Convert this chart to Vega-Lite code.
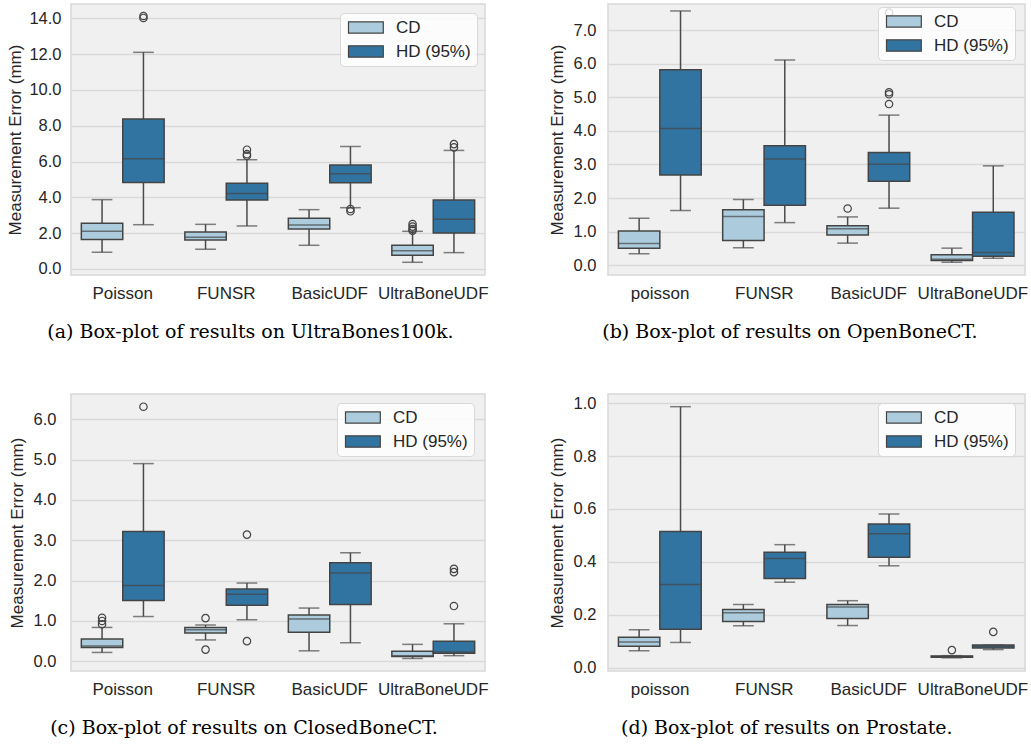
{
  "$schema": "https://vega.github.io/schema/vega-lite/v6.json",
  "background": "white",
  "padding": {"left": 6, "top": 3, "right": 5, "bottom": 5},
  "config": {
    "font": "Liberation Sans",
    "view": {"fill": "#f0f0f0", "stroke": "#d7d7d7", "strokeWidth": 1.5},
    "axis": {"labelFont": "Liberation Sans", "labelFontSize": 17, "labelColor": "#262626", "titleFont": "Liberation Sans", "titleFontSize": 17, "titleFontWeight": "normal", "titleColor": "#262626", "ticks": false, "domain": false},
    "axisY": {"gridColor": "#d9d9d9", "gridWidth": 1.5, "labelPadding": 12, "titlePadding": 7, "format": ".1f", "labelFontSize": 16.5, "labelOverlap": false},
    "axisX": {"grid": false, "labelAngle": 0, "labelPadding": 10, "title": null},
    "legend": {"symbolType": "M-1,-0.95H4.8V0.95H-1Z", "symbolSize": 144, "symbolStrokeColor": "#444444", "symbolStrokeWidth": 1.2, "symbolFillOpacity": 1, "labelFont": "Liberation Sans", "labelFontSize": 17, "labelColor": "#262626", "labelOffset": 33, "rowPadding": 6, "padding": 6, "fillColor": "rgba(255,255,255,0.8)", "strokeColor": "#d8d8d8", "cornerRadius": 4, "strokeWidth": 1, "title": null, "orient": "none"},
    "title": {"orient": "bottom", "anchor": "middle", "frame": "bounds", "font": "DejaVu Serif", "fontSize": 19, "fontWeight": "normal", "color": "#000000", "offset": 22}
  },
  "datasets": {
    "a_box": [
      {"method": "Poisson", "type": "CD", "lo": 0.93, "q1": 1.65, "med": 2.10, "q3": 2.55, "hi": 3.87},
      {"method": "Poisson", "type": "HD (95%)", "lo": 2.47, "q1": 4.83, "med": 6.15, "q3": 8.37, "hi": 12.10},
      {"method": "FUNSR", "type": "CD", "lo": 1.10, "q1": 1.62, "med": 1.77, "q3": 2.06, "hi": 2.49},
      {"method": "FUNSR", "type": "HD (95%)", "lo": 2.40, "q1": 3.85, "med": 4.22, "q3": 4.78, "hi": 6.10},
      {"method": "BasicUDF", "type": "CD", "lo": 1.32, "q1": 2.23, "med": 2.45, "q3": 2.83, "hi": 3.31},
      {"method": "BasicUDF", "type": "HD (95%)", "lo": 3.42, "q1": 4.81, "med": 5.32, "q3": 5.80, "hi": 6.84},
      {"method": "UltraBoneUDF", "type": "CD", "lo": 0.37, "q1": 0.76, "med": 1.02, "q3": 1.32, "hi": 2.10},
      {"method": "UltraBoneUDF", "type": "HD (95%)", "lo": 0.91, "q1": 2.01, "med": 2.77, "q3": 3.85, "hi": 6.62}
    ],
    "a_out": [
      {"method": "Poisson", "type": "HD (95%)", "v": 14.13},
      {"method": "Poisson", "type": "HD (95%)", "v": 14.02},
      {"method": "FUNSR", "type": "HD (95%)", "v": 6.66},
      {"method": "FUNSR", "type": "HD (95%)", "v": 6.41},
      {"method": "FUNSR", "type": "HD (95%)", "v": 6.32},
      {"method": "BasicUDF", "type": "HD (95%)", "v": 3.35},
      {"method": "BasicUDF", "type": "HD (95%)", "v": 3.22},
      {"method": "UltraBoneUDF", "type": "CD", "v": 2.51},
      {"method": "UltraBoneUDF", "type": "CD", "v": 2.36},
      {"method": "UltraBoneUDF", "type": "CD", "v": 2.23},
      {"method": "UltraBoneUDF", "type": "CD", "v": 2.14},
      {"method": "UltraBoneUDF", "type": "HD (95%)", "v": 6.97},
      {"method": "UltraBoneUDF", "type": "HD (95%)", "v": 6.79}
    ],
    "b_box": [
      {"method": "poisson", "type": "CD", "lo": 0.34, "q1": 0.51, "med": 0.65, "q3": 1.02, "hi": 1.40},
      {"method": "poisson", "type": "HD (95%)", "lo": 1.63, "q1": 2.69, "med": 4.07, "q3": 5.82, "hi": 7.57},
      {"method": "FUNSR", "type": "CD", "lo": 0.52, "q1": 0.74, "med": 1.45, "q3": 1.65, "hi": 1.96},
      {"method": "FUNSR", "type": "HD (95%)", "lo": 1.27, "q1": 1.79, "med": 3.16, "q3": 3.56, "hi": 6.11},
      {"method": "BasicUDF", "type": "CD", "lo": 0.66, "q1": 0.90, "med": 1.09, "q3": 1.18, "hi": 1.44},
      {"method": "BasicUDF", "type": "HD (95%)", "lo": 1.70, "q1": 2.50, "med": 3.01, "q3": 3.36, "hi": 4.47},
      {"method": "UltraBoneUDF", "type": "CD", "lo": 0.09, "q1": 0.14, "med": 0.18, "q3": 0.31, "hi": 0.51},
      {"method": "UltraBoneUDF", "type": "HD (95%)", "lo": 0.21, "q1": 0.27, "med": 0.38, "q3": 1.58, "hi": 2.96}
    ],
    "b_out": [
      {"method": "BasicUDF", "type": "CD", "v": 1.69},
      {"method": "BasicUDF", "type": "HD (95%)", "v": 5.15},
      {"method": "BasicUDF", "type": "HD (95%)", "v": 5.09},
      {"method": "BasicUDF", "type": "HD (95%)", "v": 4.80},
      {"method": "BasicUDF", "type": "HD (95%)", "v": 7.52}
    ],
    "c_box": [
      {"method": "Poisson", "type": "CD", "lo": 0.22, "q1": 0.34, "med": 0.38, "q3": 0.55, "hi": 0.84},
      {"method": "Poisson", "type": "HD (95%)", "lo": 1.11, "q1": 1.51, "med": 1.88, "q3": 3.22, "hi": 4.90},
      {"method": "FUNSR", "type": "CD", "lo": 0.53, "q1": 0.70, "med": 0.78, "q3": 0.84, "hi": 0.90},
      {"method": "FUNSR", "type": "HD (95%)", "lo": 1.03, "q1": 1.39, "med": 1.66, "q3": 1.79, "hi": 1.94},
      {"method": "BasicUDF", "type": "CD", "lo": 0.26, "q1": 0.72, "med": 1.05, "q3": 1.15, "hi": 1.32},
      {"method": "BasicUDF", "type": "HD (95%)", "lo": 0.46, "q1": 1.41, "med": 2.19, "q3": 2.44, "hi": 2.69},
      {"method": "UltraBoneUDF", "type": "CD", "lo": 0.07, "q1": 0.12, "med": 0.14, "q3": 0.25, "hi": 0.42},
      {"method": "UltraBoneUDF", "type": "HD (95%)", "lo": 0.14, "q1": 0.20, "med": 0.23, "q3": 0.50, "hi": 0.93}
    ],
    "c_out": [
      {"method": "Poisson", "type": "CD", "v": 1.08},
      {"method": "Poisson", "type": "CD", "v": 1.00},
      {"method": "Poisson", "type": "CD", "v": 0.92},
      {"method": "Poisson", "type": "HD (95%)", "v": 6.31},
      {"method": "FUNSR", "type": "CD", "v": 1.07},
      {"method": "FUNSR", "type": "CD", "v": 0.29},
      {"method": "FUNSR", "type": "HD (95%)", "v": 3.14},
      {"method": "FUNSR", "type": "HD (95%)", "v": 0.50},
      {"method": "UltraBoneUDF", "type": "HD (95%)", "v": 2.29},
      {"method": "UltraBoneUDF", "type": "HD (95%)", "v": 2.21},
      {"method": "UltraBoneUDF", "type": "HD (95%)", "v": 1.37}
    ],
    "d_box": [
      {"method": "poisson", "type": "CD", "lo": 0.064, "q1": 0.081, "med": 0.097, "q3": 0.115, "hi": 0.143},
      {"method": "poisson", "type": "HD (95%)", "lo": 0.095, "q1": 0.145, "med": 0.314, "q3": 0.515, "hi": 0.987},
      {"method": "FUNSR", "type": "CD", "lo": 0.158, "q1": 0.174, "med": 0.207, "q3": 0.220, "hi": 0.239},
      {"method": "FUNSR", "type": "HD (95%)", "lo": 0.323, "q1": 0.337, "med": 0.413, "q3": 0.436, "hi": 0.465},
      {"method": "BasicUDF", "type": "CD", "lo": 0.159, "q1": 0.186, "med": 0.229, "q3": 0.239, "hi": 0.253},
      {"method": "BasicUDF", "type": "HD (95%)", "lo": 0.385, "q1": 0.417, "med": 0.506, "q3": 0.543, "hi": 0.581},
      {"method": "UltraBoneUDF", "type": "CD", "lo": 0.037, "q1": 0.039, "med": 0.042, "q3": 0.044, "hi": 0.045},
      {"method": "UltraBoneUDF", "type": "HD (95%)", "lo": 0.068, "q1": 0.074, "med": 0.081, "q3": 0.085, "hi": 0.085}
    ],
    "d_out": [
      {"method": "UltraBoneUDF", "type": "CD", "v": 0.066},
      {"method": "UltraBoneUDF", "type": "HD (95%)", "v": 0.135}
    ]
  },
  "concat": [
    {
      "hconcat": [
        {
          "width": 414, "height": 271,
          "title": {"text": "(a) Box-plot of results on UltraBones100k.", "dx": 3},
          "data": {"name": "a_box"},
          "encoding": {
            "x": {"field": "method", "type": "nominal", "sort": ["Poisson", "FUNSR", "BasicUDF", "UltraBoneUDF"], "scale": {"paddingInner": 0.2, "paddingOuter": 0.1}},
            "xOffset": {"field": "type", "type": "nominal", "sort": ["CD", "HD (95%)"]}
          },
          "layer": [
            {"mark": {"type": "rule", "color": "#4a4a4a", "strokeWidth": 1.5},
             "encoding": {"y": {"field": "lo", "type": "quantitative", "scale": {"domain": [-0.34, 14.8], "nice": false, "zero": false}, "axis": {"values": [0, 2, 4, 6, 8, 10, 12, 14], "labelPadding": 10, "titlePadding": 4, "title": "Measurement Error (mm)"}}, "y2": {"field": "hi"}}},
            {"mark": {"type": "bar", "stroke": "#444444", "strokeWidth": 1.5},
             "encoding": {"y": {"field": "q1", "type": "quantitative", "axis": {"values": [0, 2, 4, 6, 8, 10, 12, 14], "labelPadding": 10, "titlePadding": 4, "title": "Measurement Error (mm)"}}, "y2": {"field": "q3"},
               "fill": {"field": "type", "type": "nominal", "scale": {"domain": ["CD", "HD (95%)"], "range": ["#acccdd", "#3274a1"]}, "legend": {"legendX": 269, "legendY": 9}}}},
            {"mark": {"type": "tick", "size": 41.4, "thickness": 1.5, "color": "#444444"}, "encoding": {"y": {"field": "med", "type": "quantitative", "axis": {"values": [0, 2, 4, 6, 8, 10, 12, 14], "labelPadding": 10, "titlePadding": 4, "title": "Measurement Error (mm)"}}}},
            {"mark": {"type": "tick", "size": 20.7, "thickness": 1.5, "color": "#4a4a4a"}, "encoding": {"y": {"field": "lo", "type": "quantitative", "axis": {"values": [0, 2, 4, 6, 8, 10, 12, 14], "labelPadding": 10, "titlePadding": 4, "title": "Measurement Error (mm)"}}}},
            {"mark": {"type": "tick", "size": 20.7, "thickness": 1.5, "color": "#4a4a4a"}, "encoding": {"y": {"field": "hi", "type": "quantitative", "axis": {"values": [0, 2, 4, 6, 8, 10, 12, 14], "labelPadding": 10, "titlePadding": 4, "title": "Measurement Error (mm)"}}}},
            {"data": {"name": "a_out"}, "mark": {"type": "point", "shape": "circle", "filled": false, "size": 55, "strokeWidth": 1.2, "color": "#444444", "opacity": 1}, "encoding": {"y": {"field": "v", "type": "quantitative", "axis": {"values": [0, 2, 4, 6, 8, 10, 12, 14], "labelPadding": 10, "titlePadding": 4, "title": "Measurement Error (mm)"}}}}
          ]
        },
        {
          "width": 417, "height": 271,
          "title": {"text": "(b) Box-plot of results on OpenBoneCT.", "dx": 2},
          "data": {"name": "b_box"},
          "encoding": {
            "x": {"field": "method", "type": "nominal", "sort": ["poisson", "FUNSR", "BasicUDF", "UltraBoneUDF"], "scale": {"paddingInner": 0.2, "paddingOuter": 0.1}},
            "xOffset": {"field": "type", "type": "nominal", "sort": ["CD", "HD (95%)"]}
          },
          "layer": [
            {"mark": {"type": "rule", "color": "#4a4a4a", "strokeWidth": 1.5},
             "encoding": {"y": {"field": "lo", "type": "quantitative", "scale": {"domain": [-0.289, 7.777], "nice": false, "zero": false}, "axis": {"values": [0, 1, 2, 3, 4, 5, 6, 7], "title": "Measurement Error (mm)"}}, "y2": {"field": "hi"}}},
            {"mark": {"type": "bar", "stroke": "#444444", "strokeWidth": 1.5},
             "encoding": {"y": {"field": "q1", "type": "quantitative", "axis": {"values": [0, 1, 2, 3, 4, 5, 6, 7], "title": "Measurement Error (mm)"}}, "y2": {"field": "q3"},
               "fill": {"field": "type", "type": "nominal", "scale": {"domain": ["CD", "HD (95%)"], "range": ["#acccdd", "#3274a1"]}, "legend": {"legendX": 270, "legendY": 3}}}},
            {"mark": {"type": "tick", "size": 41.7, "thickness": 1.5, "color": "#444444"}, "encoding": {"y": {"field": "med", "type": "quantitative", "axis": {"values": [0, 1, 2, 3, 4, 5, 6, 7], "title": "Measurement Error (mm)"}}}},
            {"mark": {"type": "tick", "size": 20.8, "thickness": 1.5, "color": "#4a4a4a"}, "encoding": {"y": {"field": "lo", "type": "quantitative", "axis": {"values": [0, 1, 2, 3, 4, 5, 6, 7], "title": "Measurement Error (mm)"}}}},
            {"mark": {"type": "tick", "size": 20.8, "thickness": 1.5, "color": "#4a4a4a"}, "encoding": {"y": {"field": "hi", "type": "quantitative", "axis": {"values": [0, 1, 2, 3, 4, 5, 6, 7], "title": "Measurement Error (mm)"}}}},
            {"data": {"name": "b_out"}, "mark": {"type": "point", "shape": "circle", "filled": false, "size": 55, "strokeWidth": 1.2, "color": "#444444", "opacity": 1}, "encoding": {"y": {"field": "v", "type": "quantitative", "axis": {"values": [0, 1, 2, 3, 4, 5, 6, 7], "title": "Measurement Error (mm)"}}}}
          ]
        }
      ],
      "spacing": 58,
      "resolve": {"scale": {"fill": "independent"}, "legend": {"fill": "independent"}}
    },
    {
      "hconcat": [
        {
          "width": 414, "height": 277,
          "title": {"text": "(c) Box-plot of results on ClosedBoneCT.", "dx": -4},
          "data": {"name": "c_box"},
          "encoding": {
            "x": {"field": "method", "type": "nominal", "sort": ["Poisson", "FUNSR", "BasicUDF", "UltraBoneUDF"], "scale": {"paddingInner": 0.2, "paddingOuter": 0.1}},
            "xOffset": {"field": "type", "type": "nominal", "sort": ["CD", "HD (95%)"]}
          },
          "layer": [
            {"mark": {"type": "rule", "color": "#4a4a4a", "strokeWidth": 1.5},
             "encoding": {"y": {"field": "lo", "type": "quantitative", "scale": {"domain": [-0.24, 6.625], "nice": false, "zero": false}, "axis": {"values": [0, 1, 2, 3, 4, 5, 6], "labelPadding": 15, "titlePadding": 7, "title": "Measurement Error (mm)"}}, "y2": {"field": "hi"}}},
            {"mark": {"type": "bar", "stroke": "#444444", "strokeWidth": 1.5},
             "encoding": {"y": {"field": "q1", "type": "quantitative", "axis": {"values": [0, 1, 2, 3, 4, 5, 6], "labelPadding": 15, "titlePadding": 7, "title": "Measurement Error (mm)"}}, "y2": {"field": "q3"},
               "fill": {"field": "type", "type": "nominal", "scale": {"domain": ["CD", "HD (95%)"], "range": ["#acccdd", "#3274a1"]}, "legend": {"legendX": 266, "legendY": 9}}}},
            {"mark": {"type": "tick", "size": 41.4, "thickness": 1.5, "color": "#444444"}, "encoding": {"y": {"field": "med", "type": "quantitative", "axis": {"values": [0, 1, 2, 3, 4, 5, 6], "labelPadding": 15, "titlePadding": 7, "title": "Measurement Error (mm)"}}}},
            {"mark": {"type": "tick", "size": 20.7, "thickness": 1.5, "color": "#4a4a4a"}, "encoding": {"y": {"field": "lo", "type": "quantitative", "axis": {"values": [0, 1, 2, 3, 4, 5, 6], "labelPadding": 15, "titlePadding": 7, "title": "Measurement Error (mm)"}}}},
            {"mark": {"type": "tick", "size": 20.7, "thickness": 1.5, "color": "#4a4a4a"}, "encoding": {"y": {"field": "hi", "type": "quantitative", "axis": {"values": [0, 1, 2, 3, 4, 5, 6], "labelPadding": 15, "titlePadding": 7, "title": "Measurement Error (mm)"}}}},
            {"data": {"name": "c_out"}, "mark": {"type": "point", "shape": "circle", "filled": false, "size": 55, "strokeWidth": 1.2, "color": "#444444", "opacity": 1}, "encoding": {"y": {"field": "v", "type": "quantitative", "axis": {"values": [0, 1, 2, 3, 4, 5, 6], "labelPadding": 15, "titlePadding": 7, "title": "Measurement Error (mm)"}}}}
          ]
        },
        {
          "width": 417, "height": 277,
          "title": {"text": "(d) Box-plot of results on Prostate.", "dx": -1},
          "data": {"name": "d_box"},
          "encoding": {
            "x": {"field": "method", "type": "nominal", "sort": ["poisson", "FUNSR", "BasicUDF", "UltraBoneUDF"], "scale": {"paddingInner": 0.2, "paddingOuter": 0.1}},
            "xOffset": {"field": "type", "type": "nominal", "sort": ["CD", "HD (95%)"]}
          },
          "layer": [
            {"mark": {"type": "rule", "color": "#4a4a4a", "strokeWidth": 1.5},
             "encoding": {"y": {"field": "lo", "type": "quantitative", "scale": {"domain": [-0.013, 1.035], "nice": false, "zero": false}, "axis": {"values": [0, 0.2, 0.4, 0.6, 0.8, 1.0], "title": "Measurement Error (mm)"}}, "y2": {"field": "hi"}}},
            {"mark": {"type": "bar", "stroke": "#444444", "strokeWidth": 1.5},
             "encoding": {"y": {"field": "q1", "type": "quantitative", "axis": {"values": [0, 0.2, 0.4, 0.6, 0.8, 1.0], "title": "Measurement Error (mm)"}}, "y2": {"field": "q3"},
               "fill": {"field": "type", "type": "nominal", "scale": {"domain": ["CD", "HD (95%)"], "range": ["#acccdd", "#3274a1"]}, "legend": {"legendX": 270, "legendY": 9}}}},
            {"mark": {"type": "tick", "size": 41.7, "thickness": 1.5, "color": "#444444"}, "encoding": {"y": {"field": "med", "type": "quantitative", "axis": {"values": [0, 0.2, 0.4, 0.6, 0.8, 1.0], "title": "Measurement Error (mm)"}}}},
            {"mark": {"type": "tick", "size": 20.8, "thickness": 1.5, "color": "#4a4a4a"}, "encoding": {"y": {"field": "lo", "type": "quantitative", "axis": {"values": [0, 0.2, 0.4, 0.6, 0.8, 1.0], "title": "Measurement Error (mm)"}}}},
            {"mark": {"type": "tick", "size": 20.8, "thickness": 1.5, "color": "#4a4a4a"}, "encoding": {"y": {"field": "hi", "type": "quantitative", "axis": {"values": [0, 0.2, 0.4, 0.6, 0.8, 1.0], "title": "Measurement Error (mm)"}}}},
            {"data": {"name": "d_out"}, "mark": {"type": "point", "shape": "circle", "filled": false, "size": 55, "strokeWidth": 1.2, "color": "#444444", "opacity": 1}, "encoding": {"y": {"field": "v", "type": "quantitative", "axis": {"values": [0, 0.2, 0.4, 0.6, 0.8, 1.0], "title": "Measurement Error (mm)"}}}}
          ]
        }
      ],
      "spacing": 58,
      "resolve": {"scale": {"fill": "independent"}, "legend": {"fill": "independent"}}
    }
  ],
  "columns": 1,
  "align": "none",
  "spacing": 50,
  "resolve": {"scale": {"fill": "independent"}, "legend": {"fill": "independent"}}
}
